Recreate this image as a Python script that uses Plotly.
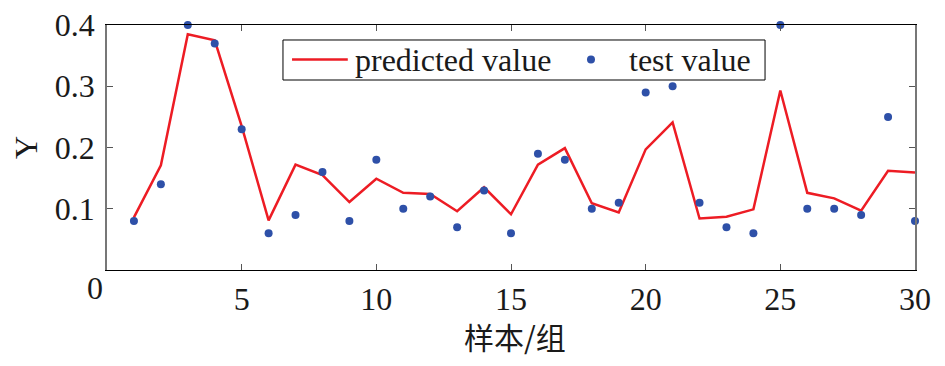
import plotly.graph_objects as go

samples = list(range(1, 31))
test_value = [0.08, 0.14, 0.40, 0.37, 0.23, 0.06, 0.09, 0.16, 0.08, 0.18,
              0.10, 0.12, 0.07, 0.13, 0.06, 0.19, 0.18, 0.10, 0.11, 0.29,
              0.30, 0.11, 0.07, 0.06, 0.40, 0.10, 0.10, 0.09, 0.25, 0.08]
predicted_value = [0.086, 0.171, 0.385, 0.375, 0.235, 0.081, 0.172, 0.155, 0.111, 0.149,
                   0.126, 0.124, 0.096, 0.135, 0.091, 0.172, 0.199, 0.109, 0.094, 0.197,
                   0.241, 0.084, 0.087, 0.099, 0.293, 0.126, 0.117, 0.097, 0.162, 0.159]
x_ticks = [5, 10, 15, 20, 25, 30]
y_ticks = [0.1, 0.2, 0.3, 0.4]
series_names = ["predicted value", "test value"]

serif = "Liberation Serif, Times New Roman, serif"
fs = 32
RED = "#ED1C24"
BLUE = "#2E50A8"

fig = go.Figure()
fig.add_trace(go.Scatter(x=samples, y=predicted_value, mode="lines", name=series_names[0],
                         line=dict(color=RED, width=2.5), cliponaxis=False))
fig.add_trace(go.Scatter(x=samples, y=test_value, mode="markers", name=series_names[1],
                         marker=dict(color=BLUE, size=8), cliponaxis=False))

fig.update_layout(
    template="none",
    width=937, height=358,
    margin=dict(l=99, r=30, t=17, b=96, autoexpand=False),
    plot_bgcolor="white", paper_bgcolor="white",
    font=dict(family=serif, size=fs, color="#1a1a1a"),
    showlegend=False,
)
fig.update_xaxes(range=[0, 30], tickvals=x_ticks, ticks="inside", ticklen=6,
                 tickcolor="#555", showline=True, linecolor="black", linewidth=1,
                 mirror="allticks", showgrid=False, zeroline=False, automargin=False,
                 ticklabelstandoff=1, ticklabeloverflow="allow")
fig.update_yaxes(range=[0, 0.4], tickvals=y_ticks, ticktext=["0.1", "0.2", "0.3", "0.4"],
                 ticks="inside", ticklen=6, tickcolor="#555",
                 showline=True, linecolor="#777", linewidth=1.5, mirror="allticks",
                 showgrid=False, zeroline=False, ticklabelstandoff=4, automargin=False,
                 ticklabeloverflow="allow",
                 title=dict(text="Y", font=dict(family=serif, size=fs), standoff=8))
fig.add_annotation(text="0", xref="paper", yref="paper", x=-0.015, y=-0.075,
                   xanchor="center", yanchor="middle", showarrow=False,
                   font=dict(family=serif, size=fs, color="#1a1a1a"))
# x-axis title
fig.add_annotation(text="样本/组", xref="paper", yref="paper", x=0.505, y=-0.27,
                   xanchor="center", yanchor="middle", showarrow=False,
                   font=dict(family="Noto Sans CJK SC", size=30, color="#1a1a1a"))

# legend box (drawn manually to match the compact boxed legend)
ly = 0.859
fig.add_shape(type="rect", xref="paper", yref="paper", x0=0.2178, x1=0.8144,
              y0=0.7755, y1=0.9388, line=dict(color="black", width=1), fillcolor="white")
fig.add_shape(type="line", xref="paper", yref="paper", x0=0.229, x1=0.298,
              y0=ly, y1=ly, line=dict(color=RED, width=2.5))
fig.add_shape(type="circle", xref="paper", yref="paper", xsizemode="pixel", ysizemode="pixel",
              xanchor=0.599, yanchor=ly, x0=-4, x1=4, y0=-4, y1=4,
              line=dict(width=0), fillcolor=BLUE)
fig.add_annotation(text=series_names[0], xref="paper", yref="paper", x=0.3045, y=ly,
                   xanchor="left", yanchor="middle", showarrow=False,
                   font=dict(family=serif, size=fs, color="#1a1a1a"))
fig.add_annotation(text=series_names[1], xref="paper", yref="paper", x=0.6436, y=ly,
                   xanchor="left", yanchor="middle", showarrow=False,
                   font=dict(family=serif, size=fs, color="#1a1a1a"))

fig.write_html("out.html")
